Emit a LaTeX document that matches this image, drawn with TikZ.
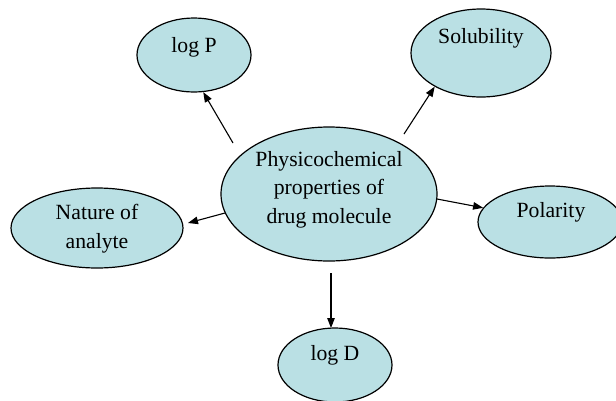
\documentclass[tikz,border=0pt]{standalone}
\usepackage{fontspec}
\setmainfont{Liberation Serif}
\usetikzlibrary{shapes.geometric,arrows.meta}
\definecolor{bubble}{RGB}{186,224,228}
\begin{document}
\begin{tikzpicture}[x=1pt,y=-1pt,
  bub/.style={ellipse,draw=black,line width=1.2pt,fill=bubble,inner sep=0pt},
  lbl/.style={font=\fontsize{21.7}{28.5}\selectfont,inner sep=0pt,align=center,anchor=base},
  arr/.style={line width=1.1pt,-{Triangle[length=10pt,width=7.5pt]}}]
\useasboundingbox (0,0) rectangle (616,400);
\clip (0,0) rectangle (616,400);
% ellipses
\node[bub,minimum width=114pt,minimum height=74pt] (logP) at (194,55) {};
\node[bub,minimum width=140pt,minimum height=88pt] (sol) at (481,53) {};
\node[bub,minimum width=216pt,minimum height=134pt] (phys) at (329,194) {};
\node[bub,minimum width=172pt,minimum height=80pt] (nat) at (97,228) {};
\node[bub,minimum width=144pt,minimum height=72pt] (pol) at (550,222) {};
\node[bub,minimum width=114pt,minimum height=74pt] (logD) at (335,365) {};
% texts (base = baseline of the last line)
\node[lbl] (tlogP) at (194,52) {log P};
\node[lbl] (tsol) at (481,43) {Solubility};
\node[lbl] (tphys) at (329,223) {Physicochemical\\properties of\\drug molecule};
\node[lbl] (tnat) at (97,248) {Nature of\\analyte};
\node[lbl] (tpol) at (551,217) {Polarity};
\node[lbl] (tlogD) at (335,360) {log D};
% arrow starts
\coordinate (s1) at (233,143);
\coordinate (s2) at (404,134);
\coordinate (s3) at (225,213);
\coordinate (s4) at (437,199);
\coordinate (s5) at (331,273);
\coordinate (e3) at (188,223);
\coordinate (e5) at (331,328);
% arrows
\draw[arr] (s1) -- (logP.-76);
\draw[arr] (s2) -- (sol.-144);
\draw[arr] (s3) -- (e3);
\draw[arr] (s4) -- (pol.168);
\draw[arr] (s5) -- (e5);
\end{tikzpicture}
\end{document}
